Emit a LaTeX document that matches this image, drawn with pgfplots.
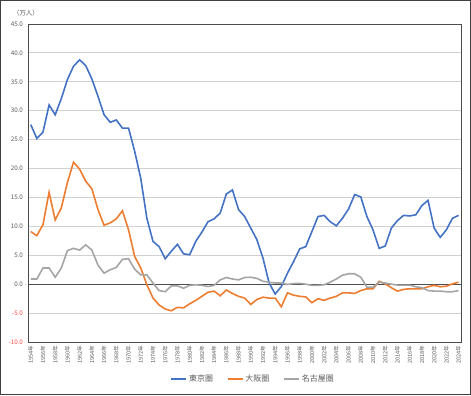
\documentclass[border=0pt]{standalone}
\usepackage{fontspec}
\setmainfont{Noto Sans CJK JP}
\usepackage{pgfplots}
\usepackage{pgfplotstable}
\pgfplotsset{compat=1.18}
\definecolor{cTokyo}{HTML}{4472C4}
\definecolor{cOsaka}{HTML}{ED7D31}
\definecolor{cNagoya}{HTML}{A5A5A5}
\definecolor{tickgray}{HTML}{595959}
\definecolor{negred}{HTML}{FF4B4B}
\pgfplotstableread{
year tokyo osaka nagoya
1954 27.6 9.1 0.9
1955 25.2 8.4 0.9
1956 26.3 10.3 2.8
1957 31.0 15.9 2.8
1958 29.3 11.1 1.2
1959 32.1 13.2 2.8
1960 35.4 17.6 5.8
1961 37.7 21.1 6.2
1962 38.8 19.9 5.9
1963 37.8 17.8 6.8
1964 35.5 16.5 5.9
1965 32.5 12.9 3.3
1966 29.3 10.2 1.9
1967 28.0 10.6 2.5
1968 28.4 11.3 2.9
1969 27.0 12.7 4.3
1970 27.0 9.4 4.4
1971 23.0 4.8 2.6
1972 18.3 2.8 1.6
1973 11.4 -0.1 1.6
1974 7.4 -2.4 0.2
1975 6.5 -3.6 -1.1
1976 4.4 -4.3 -1.3
1977 5.7 -4.6 -0.3
1978 6.9 -4.0 -0.3
1979 5.25 -4.1 -0.7
1980 5.1 -3.4 -0.2
1981 7.4 -2.8 -0.1
1982 9.0 -2.1 -0.2
1983 10.8 -1.4 -0.4
1984 11.3 -1.2 -0.2
1985 12.3 -2.0 0.75
1986 15.6 -1.0 1.15
1987 16.3 -1.6 0.9
1988 12.9 -2.1 0.75
1989 11.7 -2.4 1.15
1990 9.7 -3.5 1.2
1991 7.7 -2.65 1.0
1992 4.5 -2.25 0.5
1993 0.2 -2.4 0.35
1994 -1.7 -2.4 0.2
1995 -0.4 -3.9 0.2
1996 1.9 -1.5 -0.05
1997 3.9 -1.9 0.1
1998 6.1 -2.1 0.15
1999 6.5 -2.2 0.0
2000 9.1 -3.2 -0.2
2001 11.7 -2.5 -0.2
2002 11.9 -2.8 -0.1
2003 10.8 -2.4 0.35
2004 10.1 -2.1 0.9
2005 11.4 -1.5 1.55
2006 13.0 -1.5 1.8
2007 15.5 -1.6 1.8
2008 15.1 -1.1 1.2
2009 11.7 -0.8 -0.5
2010 9.4 -0.8 -0.5
2011 6.2 0.5 0.35
2012 6.6 0.05 0.2
2013 9.7 -0.6 0.0
2014 11.0 -1.2 -0.15
2015 11.9 -0.9 -0.15
2016 11.8 -0.8 -0.15
2017 12.0 -0.8 -0.45
2018 13.6 -0.8 -0.6
2019 14.5 -0.45 -1.1
2020 9.7 -0.2 -1.2
2021 8.1 -0.45 -1.2
2022 9.4 -0.35 -1.3
2023 11.4 0.05 -1.3
2024 11.9 0.35 -1.1
}\datatable
\begin{document}
\begin{tikzpicture}[x=1bp,y=1bp]
\useasboundingbox (0,0) rectangle (471,395);
\draw[line width=1.2bp, black!75] (0.6,0.6) rectangle (470.4,394.4);
\node[font=\fontsize{6.5}{7}\selectfont, text=tickgray] at (26,381.5) {（万人）};
\begin{axis}[
  at={(28bp,53bp)}, anchor=south west,
  scale only axis, width=433bp, height=318bp,
  xmin=1953.55, xmax=2024.4,
  ymin=-10, ymax=45,
  axis line style={black!70, line width=0.9bp},
  ytick={-10,-5,0,5,10,15,20,25,30,35,40,45},
  yticklabels={\textcolor{negred}{-10.0},\textcolor{negred}{-5.0},0.0,5.0,10.0,15.0,20.0,25.0,30.0,35.0,40.0,45.0},
  yticklabel style={font=\fontsize{6.3}{7}\selectfont, text=tickgray, xshift=-1.5bp},
  xtick={1954,1956,...,2024},
  xticklabels={1954年,1956年,1958年,1960年,1962年,1964年,1966年,1968年,1970年,1972年,1974年,1976年,1978年,1980年,1982年,1984年,1986年,1988年,1990年,1992年,1994年,1996年,1998年,2000年,2002年,2004年,2006年,2008年,2010年,2012年,2014年,2016年,2018年,2020年,2022年,2024年},
  xticklabel style={font=\fontsize{5.6}{6}\selectfont, text=tickgray, rotate=90, anchor=east, yshift=0bp},
  major tick length=0pt,
  ymajorgrids, grid style={black!18, line width=0.9bp},
  legend columns=3,
  legend style={at={(0.52,-0.116)}, anchor=center, draw=none, fill=none,
    font=\fontsize{8}{9}\selectfont, text=tickgray,
    /tikz/every even column/.append style={column sep=12bp}},
  legend image code/.code={\draw[#1, line width=1.5bp] (0bp,0bp) -- (15bp,0bp);},
  clip=false,
]
\draw[black!70, line width=1.1bp] (axis cs:1953.55,0) -- (axis cs:2024.4,0);
\addplot[cTokyo, line width=1.6bp, no marks] table[x=year,y=tokyo] {\datatable};
\addlegendentry{東京圏}
\addplot[cOsaka, line width=1.6bp, no marks] table[x=year,y=osaka] {\datatable};
\addlegendentry{大阪圏}
\addplot[cNagoya, line width=1.6bp, no marks] table[x=year,y=nagoya] {\datatable};
\addlegendentry{名古屋圏}
\end{axis}
\end{tikzpicture}
\end{document}
